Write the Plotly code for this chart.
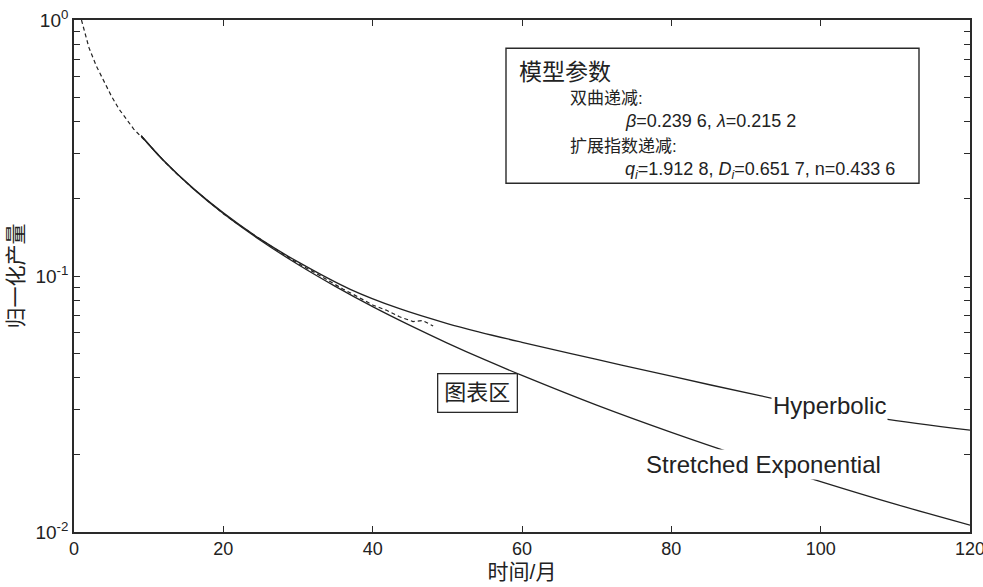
import plotly.graph_objects as go

# ---- data ----
t_actual = [1, 2, 3, 4, 5, 6, 7, 8, 9, 10, 12, 14, 16, 18, 20, 22, 24, 26, 28, 30,
            32, 34, 36, 38, 40, 41.8, 43.6, 45.4, 46.7, 48.1]
q_actual = [1.0, 0.78, 0.66, 0.575, 0.505, 0.45, 0.41, 0.375, 0.35, 0.327, 0.282, 0.247,
            0.219, 0.195, 0.175, 0.159, 0.145, 0.133, 0.122, 0.112, 0.104, 0.096, 0.089,
            0.083, 0.077, 0.0736, 0.0693, 0.0664, 0.0670, 0.0638]

t_hyp = [9, 12, 16, 20, 25, 30, 37, 43.6, 50, 54.3, 60, 70, 80, 92, 100, 108, 120]
q_hyp = [0.353, 0.2825, 0.2195, 0.1765, 0.139, 0.1135, 0.0887, 0.0745, 0.0652, 0.0604,
         0.0551, 0.0472, 0.0406, 0.0340, 0.0305, 0.0278, 0.0250]

t_se = [9, 12, 16, 20, 25, 30, 35, 40, 45, 50, 55, 60, 70, 80, 90, 100, 110, 120]
q_se = [0.353, 0.2822, 0.2189, 0.1754, 0.1377, 0.1109, 0.0911, 0.0759, 0.0641, 0.0547,
        0.0471, 0.0409, 0.0313, 0.0245, 0.0195, 0.01574, 0.01285, 0.01064]

x_ticks = [0, 20, 40, 60, 80, 100, 120]
y_ticks = [0.01, 0.1, 1]
y_ticktext = ["10<sup>-2</sup>", "10<sup>-1</sup>", "10<sup>0</sup>"]

FONT = "Liberation Sans, Arial, Noto Sans CJK SC, sans-serif"
INK = "#222222"
AX = "#2a2a2a"

fig = go.Figure()
fig.add_trace(go.Scatter(x=t_actual, y=q_actual, mode="lines",
                         line=dict(color=INK, width=1.2, dash="4px,3px"),
                         showlegend=False))
fig.add_trace(go.Scatter(x=t_hyp, y=q_hyp, mode="lines", line_shape="spline",
                         line=dict(color=INK, width=1.3), showlegend=False))
fig.add_trace(go.Scatter(x=t_se, y=q_se, mode="lines", line_shape="spline",
                         line=dict(color=INK, width=1.3), showlegend=False))

minor_vals = [m * 10 ** e for e in (-2, -1) for m in range(2, 10)]

fig.update_xaxes(range=[0, 120], tickvals=x_ticks, ticks="inside", ticklen=6,
                 tickwidth=1.4, tickcolor=AX, showline=True, linecolor=AX,
                 linewidth=1.6, mirror="ticks", showgrid=False, zeroline=False,
                 automargin=False, ticklabeloverflow="allow",
                 tickfont=dict(size=18, color=INK, family=FONT),
                 title=dict(text="时间/月", font=dict(size=21, color=INK, family=FONT),
                            standoff=6))
fig.update_yaxes(type="log", range=[-2, 0], tickvals=y_ticks, ticktext=y_ticktext,
                 ticks="inside", ticklen=6, tickwidth=1.4, tickcolor=AX,
                 showline=True, linecolor=AX, linewidth=1.6, mirror="ticks",
                 showgrid=False, zeroline=False, automargin=False,
                 ticklabeloverflow="allow",
                 minor=dict(tickvals=minor_vals, ticks="inside", ticklen=6,
                            tickwidth=1.4, tickcolor=AX, showgrid=False),
                 tickfont=dict(size=19, color=INK, family=FONT),
                 title=dict(text="归一化产量", font=dict(size=21, color=INK, family=FONT),
                            standoff=6))

annos = []
# curve labels (white background breaks the lines)
annos.append(dict(x=101.2, y=-1.505, xref="x", yref="y", text="Hyperbolic",
                  showarrow=False, bgcolor="white", borderpad=1,
                  font=dict(size=24, color=INK, family=FONT)))
annos.append(dict(x=92.3, y=-1.735, xref="x", yref="y", text="Stretched Exponential",
                  showarrow=False, bgcolor="white", borderpad=1,
                  font=dict(size=24, color=INK, family=FONT)))
annos.append(dict(x=54.1, y=-1.457, xref="x", yref="y", text="图表区",
                  showarrow=False, bgcolor="white", bordercolor=AX, borderwidth=1.3,
                  borderpad=6, font=dict(size=22, color=INK, family=FONT)))

# parameter box texts
def px2paper(px, py):
    return (px - 74) / 896, (532 - py) / 512

for (px, py, txt, sz) in [
    (517, 71.7, "模型参数", 23),
    (568, 98, "双曲递减:", 17),
    (623, 121, "<i>β</i>=0.239 6, <i>λ</i>=0.215 2", 18),
    (568, 146.7, "扩展指数递减:", 17),
    (623, 170, "<i>q<sub>i</sub></i>=1.912 8, <i>D<sub>i</sub></i>=0.651 7, n=0.433 6", 18),
]:
    xp, yp = px2paper(px, py)
    annos.append(dict(x=xp, y=yp, xref="paper", yref="paper", text=txt,
                      xanchor="left", yanchor="middle", showarrow=False,
                      font=dict(size=sz, color=INK, family=FONT)))

bx0, by1 = px2paper(506, 48.3)
bx1, by0 = px2paper(919, 183.3)
fig.add_shape(type="rect", xref="paper", yref="paper", x0=bx0, x1=bx1, y0=by0, y1=by1,
              line=dict(color=AX, width=1.4), fillcolor="white", layer="below")

fig.update_layout(width=983, height=587, margin=dict(l=74, r=13, t=20, b=55),
                  plot_bgcolor="white", paper_bgcolor="white", annotations=annos,
                  font=dict(family=FONT, color=INK))

fig.write_html("out.html", config={"displayModeBar": False},
               post_script="document.body.style.margin='0px';"
                           "document.body.style.overflow='hidden';")
